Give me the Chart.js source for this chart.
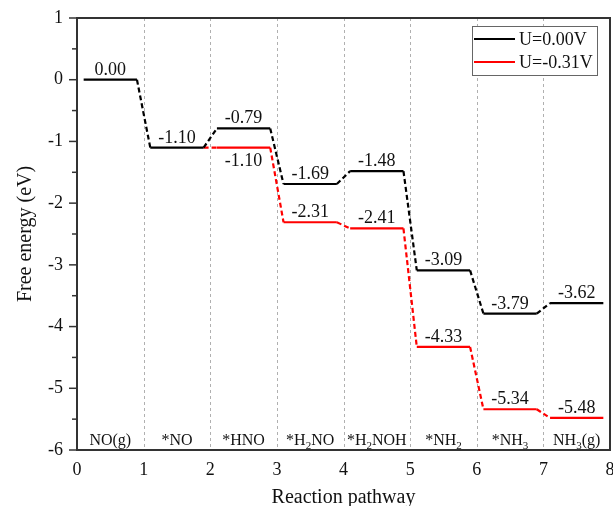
<!DOCTYPE html>
<html>
<head>
<meta charset="utf-8">
<script src="https://cdn.jsdelivr.net/npm/chart.js@4"></script>
<style>
html,body{margin:0;padding:0;background:#fff;}
#wrap{width:613px;height:506px;}
</style>
</head>
<body>
<div id="wrap"><canvas id="c" width="613" height="506"></canvas></div>
<script>
// ---- data ----
const categories = ['NO(g)', '*NO', '*HNO', '*H₂NO', '*H₂NOH', '*NH₂', '*NH₃', 'NH₃(g)'];
const energyU000 = [0.00, -1.10, -0.79, -1.69, -1.48, -3.09, -3.79, -3.62];
const energyU031 = [null, -1.10, -1.10, -2.31, -2.41, -4.33, -5.34, -5.48];
const seriesNames = ['U=0.00V', 'U=-0.31V'];
const seriesColors = ['#000000', '#ff0000'];
const xTickValues = [0, 1, 2, 3, 4, 5, 6, 7, 8];
const yTickValues = [-6, -5, -4, -3, -2, -1, 0, 1];
const yMinorValues = [-5.5, -4.5, -3.5, -2.5, -1.5, -0.5, 0.5];

const PAD = 0.1;
const SERIF = '"Liberation Serif", "Times New Roman", serif';

function buildPoints(values) {
  const pts = [];
  values.forEach((v, i) => {
    if (v === null) return;
    pts.push({x: i + PAD, y: v, step: i});
    pts.push({x: i + 1 - PAD, y: v, step: i});
  });
  return pts;
}

const blackPts = buildPoints(energyU000);
const redPts = buildPoints(energyU031);

function drawRich(ctx, text, cx, baseY, size, color) {
  const subMap = {'₀':'0','₁':'1','₂':'2','₃':'3','₄':'4','₅':'5','₆':'6','₇':'7','₈':'8','₉':'9'};
  const runs = [];
  for (const ch of text) {
    const sub = ch in subMap;
    const c = sub ? subMap[ch] : ch;
    if (runs.length && runs[runs.length - 1].sub === sub) runs[runs.length - 1].t += c;
    else runs.push({t: c, sub});
  }
  const subSize = Math.round(size * 0.68);
  let w = 0;
  runs.forEach(r => {
    ctx.font = (r.sub ? subSize : size) + 'px ' + SERIF;
    r.w = ctx.measureText(r.t).width;
    w += r.w;
  });
  let x = cx - w / 2;
  ctx.fillStyle = color;
  ctx.textAlign = 'left';
  ctx.textBaseline = 'alphabetic';
  runs.forEach(r => {
    ctx.font = (r.sub ? subSize : size) + 'px ' + SERIF;
    ctx.fillText(r.t, x, r.sub ? baseY + 4 : baseY);
    x += r.w;
  });
}

const decor = {
  id: 'decor',
  beforeDatasetsDraw(chart) {
    const {ctx, chartArea: a, scales: {x}} = chart;
    ctx.save();
    ctx.strokeStyle = '#b0b0b0';
    ctx.lineWidth = 1;
    ctx.setLineDash([3, 3]);
    for (let i = 1; i < categories.length; i++) {
      const px = Math.round(x.getPixelForValue(i)) + 0.5;
      ctx.beginPath();
      ctx.moveTo(px, a.top);
      ctx.lineTo(px, a.bottom);
      ctx.stroke();
    }
    ctx.restore();
  },
  afterDatasetsDraw(chart) {
    const {ctx, chartArea: a, scales: {x, y}} = chart;
    ctx.save();
    // frame
    ctx.strokeStyle = '#333';
    ctx.lineWidth = 2;
    ctx.strokeRect(a.left, a.top, a.right - a.left, a.bottom - a.top);
    // y ticks
    ctx.lineWidth = 1.5;
    yTickValues.forEach(v => {
      const py = y.getPixelForValue(v);
      ctx.beginPath(); ctx.moveTo(a.left - 8, py); ctx.lineTo(a.left, py); ctx.stroke();
    });
    yMinorValues.forEach(v => {
      const py = y.getPixelForValue(v);
      ctx.beginPath(); ctx.moveTo(a.left - 5, py); ctx.lineTo(a.left, py); ctx.stroke();
    });
    // value labels
    energyU000.forEach((v, i) => {
      const cx = x.getPixelForValue(i + 0.5);
      const py = y.getPixelForValue(v);
      ctx.font = '18px ' + SERIF;
      ctx.fillStyle = '#111';
      ctx.textAlign = 'center';
      ctx.textBaseline = 'alphabetic';
      ctx.fillText(v.toFixed(2), cx, py - 5);
    });
    energyU031.forEach((v, i) => {
      if (v === null || v === energyU000[i]) return;
      const cx = x.getPixelForValue(i + 0.5);
      const py = y.getPixelForValue(v);
      const below = (energyU000[i] - v) < 0.5;
      ctx.font = '18px ' + SERIF;
      ctx.fillStyle = '#111';
      ctx.textAlign = 'center';
      ctx.textBaseline = 'alphabetic';
      ctx.fillText(v.toFixed(2), cx, below ? py + 18 : py - 5);
    });
    // category labels
    categories.forEach((c, i) => {
      drawRich(ctx, c, x.getPixelForValue(i + 0.5), a.bottom - 5, 16, '#111');
    });
    // legend
    const bw = 125, bh = 49;
    const bx = a.right - 13 - bw, by = a.top + 8;
    ctx.fillStyle = '#fff';
    ctx.fillRect(bx, by, bw, bh);
    ctx.strokeStyle = '#666';
    ctx.lineWidth = 1;
    ctx.strokeRect(bx + 0.5, by + 0.5, bw, bh);
    seriesNames.forEach((n, k) => {
      const ly = by + 13 + k * 23;
      ctx.strokeStyle = seriesColors[k];
      ctx.lineWidth = 2.2;
      ctx.beginPath(); ctx.moveTo(bx + 2, ly); ctx.lineTo(bx + 43, ly); ctx.stroke();
      ctx.font = '18px ' + SERIF;
      ctx.fillStyle = '#111';
      ctx.textAlign = 'left';
      ctx.textBaseline = 'middle';
      ctx.fillText(n, bx + 47, ly + 1);
    });
    ctx.restore();
  }
};

function dashSeg(ctx) { return ctx.p0DataIndex % 2 ? [5, 3] : undefined; }

new Chart(document.getElementById('c'), {
  type: 'scatter',
  data: {
    datasets: [
      {
        label: seriesNames[0],
        data: blackPts,
        showLine: true,
        borderColor: seriesColors[0],
        borderWidth: 2.2,
        pointRadius: 0,
        tension: 0,
        segment: {borderDash: dashSeg}
      },
      {
        label: seriesNames[1],
        data: redPts,
        showLine: true,
        borderColor: seriesColors[1],
        borderWidth: 2.2,
        pointRadius: 0,
        tension: 0,
        segment: {
          borderDash: dashSeg,
          borderColor: ctx => {
            if (ctx.p0DataIndex % 2 === 0) {
              const st = redPts[ctx.p0DataIndex].step;
              if (energyU031[st] === energyU000[st]) return 'rgba(0,0,0,0)';
            }
            return seriesColors[1];
          }
        }
      }
    ]
  },
  options: {
    responsive: false,
    animation: false,
    events: [],
    layout: {padding: {top: 18, right: 3, left: 0, bottom: 0}},
    plugins: {legend: {display: false}, tooltip: {enabled: false}},
    scales: {
      x: {
        type: 'linear', min: 0, max: 8,
        afterBuildTicks: s => { s.ticks = xTickValues.map(v => ({value: v})); },
        afterFit: s => { s.height = 56; s.paddingRight = 0; s.paddingLeft = 0; },
        grid: {display: false, drawTicks: false},
        border: {display: false},
        ticks: {padding: 9, color: '#111', font: {family: SERIF, size: 18}},
        title: {display: true, text: 'Reaction pathway', color: '#111',
                font: {family: SERIF, size: 20, lineHeight: 0.8}, padding: {top: 0, bottom: 0}}
      },
      y: {
        min: -6, max: 1,
        afterBuildTicks: s => { s.ticks = yTickValues.map(v => ({value: v})); },
        afterFit: s => { s.width = 77; s.paddingTop = 0; s.paddingBottom = 0; },
        grid: {display: false, drawTicks: false},
        border: {display: false},
        ticks: {padding: 14, color: '#111', font: {family: SERIF, size: 18}},
        title: {display: true, text: 'Free energy (eV)', color: '#111',
                font: {family: SERIF, size: 20, lineHeight: 1.2}, padding: {top: 14, bottom: 0}}
      }
    }
  },
  plugins: [decor]
});
</script>
</body>
</html>
